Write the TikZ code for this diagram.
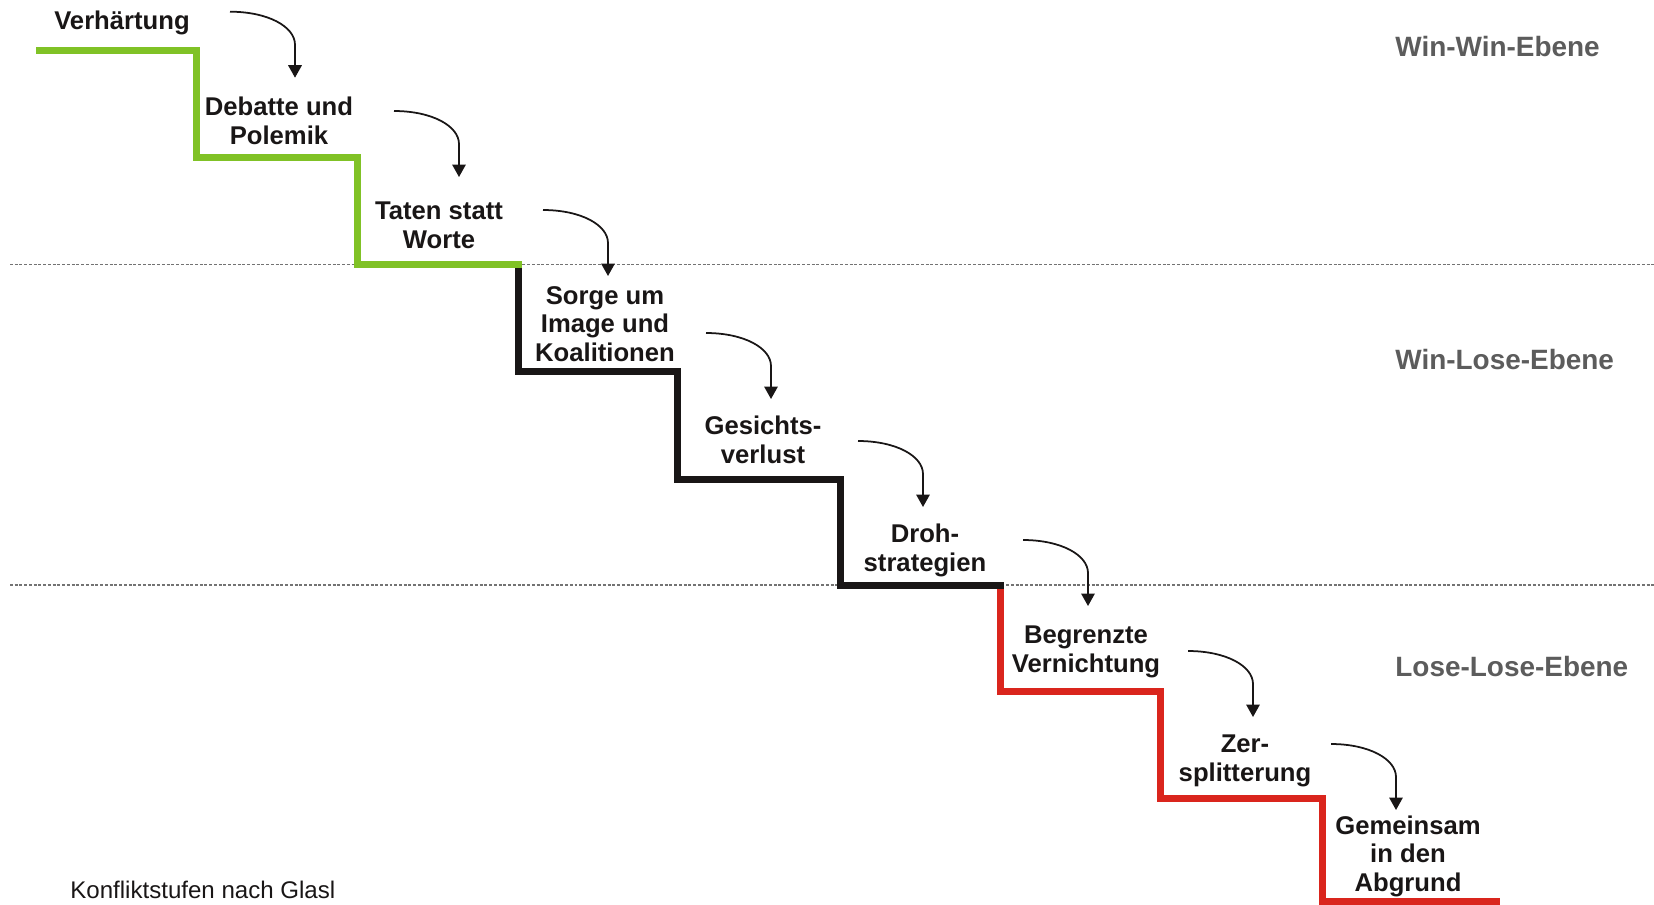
\documentclass[tikz,border=0pt]{standalone}
\usepackage{fontspec}
\setmainfont{Liberation Sans}
\usetikzlibrary{arrows.meta}
\definecolor{stufegruen}{RGB}{128,194,38}
\definecolor{stuferot}{RGB}{218,37,29}
\definecolor{stufeschwarz}{RGB}{25,22,22}
\definecolor{ebenegrau}{RGB}{92,92,92}
\tikzset{
  treppe/.style={line width=0.14cm, line cap=rect},
  stufe/.style={font=\fontsize{14.6}{16.4}\selectfont\bfseries, text=stufeschwarz, align=center, anchor=south, inner sep=0pt, text depth=0pt},
  ebene/.style={font=\fontsize{15.9}{18}\selectfont\bfseries, text=ebenegrau, anchor=base west, inner sep=0pt},
  pfeil/.style={line width=1pt, stufeschwarz, -{Triangle[width=0.27cm,length=0.25cm]}},
  grenze/.style={color={rgb,255:red,115;green,115;blue,115}, line width=0.7pt, dash pattern=on 1.7pt off 1pt}
}
\begin{document}
\begin{tikzpicture}[x=0.02cm,y=-0.02cm]
\useasboundingbox (0,0) rectangle (1654,904);
\draw[grenze] (10,264.5) -- (1654,264.5);
\draw[grenze] (10,585) -- (1654,585);
\draw[treppe,stuferot] (1000,585) -- (1000,691) -- (1160.5,691) -- (1160.5,798.5) -- (1322.5,798.5) -- (1322.5,901) -- (1496,901);
\draw[treppe,stufeschwarz] (518.5,264.5) -- (518.5,371) -- (677.5,371) -- (677.5,479) -- (840,479) -- (840,585) -- (1000,585);
\draw[treppe,stufegruen] (39,50) -- (196,50) -- (196,157.5) -- (357,157.5) -- (357,264.5) -- (518.5,264.5);
\node[stufe] (s1) at (122,30) {Verhärtung};
\node[stufe] (s2) at (279,145) {Debatte und\\Polemik};
\node[stufe] (s3) at (439,249) {Taten statt\\Worte};
\node[stufe] (s4) at (605,362) {Sorge um\\Image und\\Koalitionen};
\node[stufe] (s5) at (763,464) {Gesichts-\\verlust};
\node[stufe] (s6) at (925,572) {Droh-\\strategien};
\node[stufe] (s7) at (1086,673) {Begrenzte\\Vernichtung};
\node[stufe] (s8) at (1245,782) {Zer-\\splitterung};
\node[stufe] (s9) at (1408,892) {Gemeinsam\\in den\\Abgrund};
\node[ebene] (e1) at (1395,56) {Win-Win-Ebene};
\node[ebene] (e2) at (1395,369) {Win-Lose-Ebene};
\node[ebene] (e3) at (1395,676) {Lose-Lose-Ebene};
\node[anchor=base west, inner sep=0pt, font=\fontsize{13.7}{16}\selectfont, text=stufeschwarz] (titel) at (70,898.5) {Konfliktstufen nach Glasl};
\foreach \x/\y [count=\i] in {230/11.7, 394/111, 543/210, 706/333, 858/441, 1023/540, 1188/651, 1331/744}{
  \coordinate (a\i) at (\x,\y);
  \coordinate (k\i) at (\x+65,\y+33);
  \coordinate (b\i) at (\x+65,\y+66);
  \draw[pfeil] (a\i) .. controls +(38,0) and +(0,-18) .. (k\i) -- (b\i);
}
\end{tikzpicture}
\end{document}
